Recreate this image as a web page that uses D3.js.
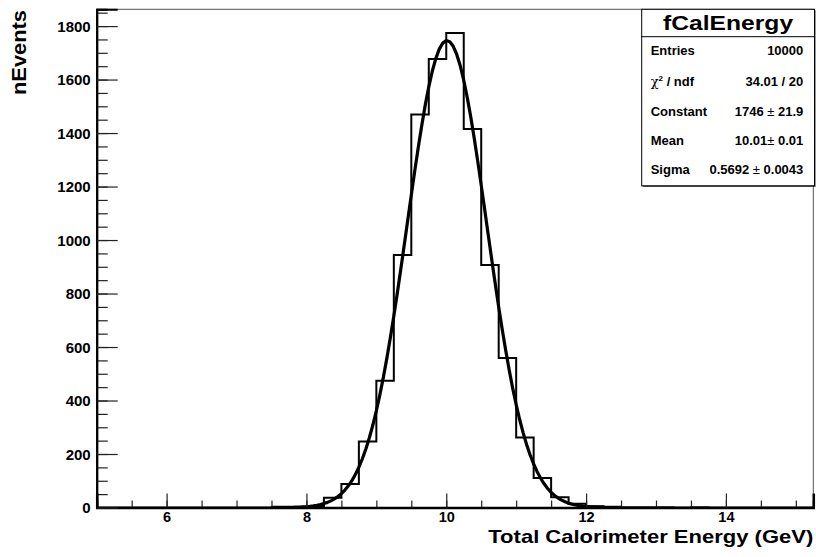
<!DOCTYPE html>
<html><head><meta charset="utf-8">
<script src="https://cdn.jsdelivr.net/npm/d3@7"></script>
<style>
body{margin:0;background:#fff}
svg{display:block}
text{font-family:"Liberation Sans",Arial,Helvetica,sans-serif;font-weight:bold;fill:#000}
</style>
</head><body>
<svg id="c" width="816" height="557"></svg>
<script>
// ---- data ----
const histName = "fCalEnergy";
const xRange = [5.0, 15.25];
const binWidth = 0.25;
const binCounts = [0,0,0,0,0,0,0,0,0,0,
                   1,1,6,36,88,247,474,944,1469,1677,
                   1774,1415,907,559,262,110,38,14,5,2,
                   1,1,1,0,1,0,0,0,0,0,
                   0];
const xMajorTicks = [6, 8, 10, 12, 14];
const yMajorTicks = [0, 200, 400, 600, 800, 1000, 1200, 1400, 1600, 1800];
const fitConstant = 1746, fitMean = 10.01, fitSigma = 0.5692;
const fitRange = [7.5, 12.5];
const statsLabels = ["Entries", "chi2", "Constant", "Mean", "Sigma"];
const statsValues = [["10000"], ["34.01 / 20"], ["1746 ", "\u00b1", " 21.9"], ["10.01", "\u00b1", " 0.01"], ["0.5692 ", "\u00b1", " 0.0043"]];
const xTitle = "Total Calorimeter Energy (GeV)";
const yTitle = "nEvents";

// ---- layout ----
const L = 96.7, R = 813.3, T = 9.3, B = 507.5;
const svg = d3.select("#c");
const x = d3.scaleLinear().domain(xRange).range([L, R]);
const y = d3.scaleLinear().domain([0, d3.max(binCounts) * 1.05]).range([B, T]);

// frame (top/right)
svg.append("rect").attr("x", L).attr("y", T).attr("width", R - L).attr("height", B - T)
  .attr("fill", "none").attr("stroke", "#555").attr("stroke-width", 1);

// histogram
const pts = [[xRange[0], 0]];
binCounts.forEach((c, i) => {
  const lo = xRange[0] + i * binWidth;
  pts.push([lo, c], [lo + binWidth, c]);
});
pts.push([xRange[1], 0]);
const line = d3.line().x(d => x(d[0])).y(d => y(d[1]));
svg.append("path").attr("d", line(pts)).attr("fill", "none")
  .attr("stroke", "#000").attr("stroke-width", 2).attr("stroke-linejoin", "miter");

// fit curve
const fx = d3.range(0, 101).map(k => fitRange[0] + (fitRange[1] - fitRange[0]) * k / 100);
const fitPts = fx.map(v => [v, fitConstant * Math.exp(-0.5 * Math.pow((v - fitMean) / fitSigma, 2))]);
svg.append("path").attr("d", line.curve(d3.curveLinear)(fitPts)).attr("fill", "none")
  .attr("stroke", "#000").attr("stroke-width", 3.2).attr("stroke-linejoin", "round");

// axes
const xMinor = d3.range(xRange[0] + 0.5, xRange[1], 0.5);
const gxm = svg.append("g").attr("transform", `translate(0,${B})`)
  .call(d3.axisBottom(x).tickValues(xMinor).tickSize(-7).tickFormat(""));
const gx = svg.append("g").attr("transform", `translate(0,${B})`)
  .call(d3.axisBottom(x).tickValues(xMajorTicks).tickSize(-14).tickPadding(4.5).tickFormat(d3.format("d")));
const yMinor = d3.range(50, y.domain()[1], 50);
const gym = svg.append("g").attr("transform", `translate(${L},0)`)
  .call(d3.axisLeft(y).tickValues(yMinor).tickSize(-11).tickFormat(""));
const gy = svg.append("g").attr("transform", `translate(${L},0)`)
  .call(d3.axisLeft(y).tickValues(yMajorTicks).tickSize(-21).tickPadding(6).tickFormat(d3.format("d")));
[gxm, gx, gym, gy].forEach(g => {
  g.selectAll(".tick line").attr("stroke", "#222").attr("stroke-width", 1.2);
  g.select(".domain").attr("stroke", "#000").attr("stroke-width", 2);
});
gx.selectAll("text").attr("font-size", 14.5).attr("font-family", null).attr("dy", "0.71em");
gy.selectAll("text").attr("font-size", 15).attr("font-family", null).attr("dy", "0.36em");
gx.select(".domain").attr("stroke-width", 2.5);

// titles
svg.append("text").attr("x", R).attr("y", 542.5).attr("text-anchor", "end")
  .attr("font-size", 18.5).attr("textLength", 325).attr("lengthAdjust", "spacingAndGlyphs").text(xTitle);
svg.append("text").attr("transform", "translate(26,10) rotate(-90)").attr("text-anchor", "end")
  .attr("font-size", 19.5).attr("textLength", 85).attr("lengthAdjust", "spacingAndGlyphs").text(yTitle);

// stats box
const bx = 641.7, bw = 172.8, by = 9.3, bh = 176.5, sep = 36.7;
svg.append("rect").attr("x", bx + 1).attr("y", by + 1).attr("width", bw).attr("height", bh).attr("fill", "#333");
svg.append("rect").attr("x", bx).attr("y", by).attr("width", bw).attr("height", bh)
  .attr("fill", "#fff").attr("stroke", "#000").attr("stroke-width", 1);
svg.append("line").attr("x1", bx).attr("x2", bx + bw).attr("y1", sep).attr("y2", sep)
  .attr("stroke", "#000").attr("stroke-width", 1);
svg.append("text").attr("x", bx + bw / 2).attr("y", 29.5).attr("text-anchor", "middle")
  .attr("font-size", 19.5).attr("textLength", 130).attr("lengthAdjust", "spacingAndGlyphs").text(histName);
const rowY = [55, 85.5, 115.5, 144.5, 173.5];
statsLabels.forEach((lab, i) => {
  const t = svg.append("text").attr("x", 650.7).attr("y", rowY[i]).attr("font-size", 13);
  if (lab === "chi2") {
    t.append("tspan").attr("font-weight", "normal").attr("font-family", "DejaVu Serif, serif").text("\u03c7");
    t.append("tspan").attr("font-size", 8).attr("dy", -5).text("2");
    t.append("tspan").attr("dy", 5).text(" / ndf");
  } else t.text(lab);
  const v = svg.append("text").attr("x", 803.3).attr("y", rowY[i]).attr("font-size", 13).attr("text-anchor", "end");
  statsValues[i].forEach(part => {
    v.append("tspan").attr("font-weight", part === "\u00b1" ? "normal" : "bold").text(part);
  });
});
</script>
</body></html>
